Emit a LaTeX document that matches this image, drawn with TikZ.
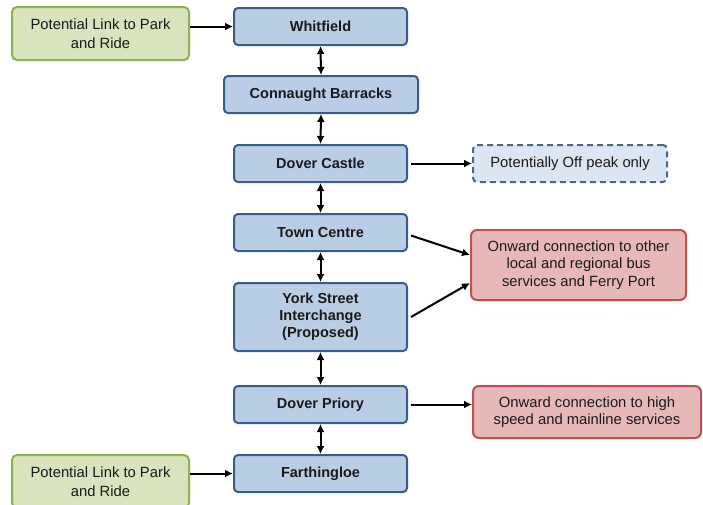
\documentclass[tikz,border=0pt]{standalone}
\usepackage{fontspec}
\setmainfont{Liberation Sans}
\usetikzlibrary{arrows.meta}
\definecolor{bfill}{HTML}{B9CDE5}
\definecolor{bdraw}{HTML}{385D8A}
\definecolor{gfill}{HTML}{D7E4BD}
\definecolor{gdraw}{HTML}{8EB150}
\definecolor{rfill}{HTML}{E6B9B8}
\definecolor{rdraw}{HTML}{C0504D}
\definecolor{dfill}{HTML}{DCE6F2}
\definecolor{ddraw}{HTML}{4A6588}
\definecolor{txt}{HTML}{1A1A1A}
\begin{document}
\begin{tikzpicture}[x=1pt,y=-1pt,
  stop/.style={draw=bdraw,fill=bfill,line width=2pt,rounded corners=4pt,minimum width=173pt,minimum height=37pt,font=\fontsize{14.5}{17}\selectfont\bfseries,text=txt,align=center,inner sep=2pt},
  park/.style={draw=gdraw,fill=gfill,line width=2pt,rounded corners=5pt,minimum width=177pt,minimum height=53pt,font=\fontsize{14.8}{19}\selectfont,text=txt,align=center,inner sep=2pt},
  onward/.style={draw=rdraw,fill=rfill,line width=2pt,rounded corners=6pt,font=\fontsize{14.8}{17.5}\selectfont,text=txt,align=center,inner sep=2pt},
  offpk/.style={draw=ddraw,fill=dfill,line width=2pt,dashed,dash pattern=on 6pt off 4pt,rounded corners=4pt,minimum width=194pt,minimum height=37pt,font=\fontsize{14.8}{17}\selectfont,text=txt,align=center},
  conn/.style={line width=2pt,-{Latex[length=8pt,width=8pt]}},
  both/.style={line width=2pt,{Latex[length=8pt,width=8pt]}-{Latex[length=8pt,width=8pt]}}]
\useasboundingbox (0,0) rectangle (703,504);
\begin{scope}
\clip (0,0) rectangle (703,504);
\node[stop] (wh) at (320.5,26.5) {Whitfield};
\node[stop,minimum width=194pt] (cb) at (321,94.5) {Connaught Barracks};
\node[stop] (dc) at (320.5,163.5) {Dover Castle};
\node[stop] (tc) at (320.5,232.5) {Town Centre};
\node[stop,minimum height=68pt] (ys) at (320.5,317) {York Street\\Interchange\\(Proposed)};
\node[stop] (dp) at (320.5,404.5) {Dover Priory};
\node[stop] (fa) at (320.5,473.5) {Farthingloe};
\node[park] (pt) at (100.5,33.5) {Potential Link to Park\\and Ride};
\node[park] (pb) at (100.5,481.5) {Potential Link to Park\\and Ride};
\node[offpk] (op) at (570,163.5) {Potentially Off peak only};
\node[onward,minimum width=215pt,minimum height=70pt] (r1) at (578.5,265) {Onward connection to other\\local and regional bus\\services and Ferry Port};
\node[onward,minimum width=228pt,minimum height=52pt] (r2) at (587,412) {Onward connection to high\\speed and mainline services};
\end{scope}
\draw[conn] (pt.east |- wh) -- (wh.west);
\draw[conn] (pb.east |- fa) -- (fa.west);
\draw[both] (wh.south) -- (cb.north);
\draw[both] (cb.south) -- (dc.north);
\draw[both] (dc.south) -- (tc.north);
\draw[both] (tc.south) -- (ys.north);
\draw[both] (ys.south) -- (dp.north);
\draw[both] (dp.south) -- (fa.north);
\coordinate (a1) at ([xshift=3pt]dc.east);
\draw[conn] (a1) -- (op.west);
\coordinate (a2) at ([xshift=3pt,yshift=-3pt]tc.east);
\draw[conn] (a2) -- ([yshift=10pt]r1.west);
\coordinate (a3) at ([xshift=3pt]ys.east);
\draw[conn] (a3) -- ([yshift=-18pt]r1.west);
\coordinate (a4) at ([xshift=3pt]dp.east);
\draw[conn] (a4) -- (a4 -| r2.west);
\end{tikzpicture}
\end{document}
